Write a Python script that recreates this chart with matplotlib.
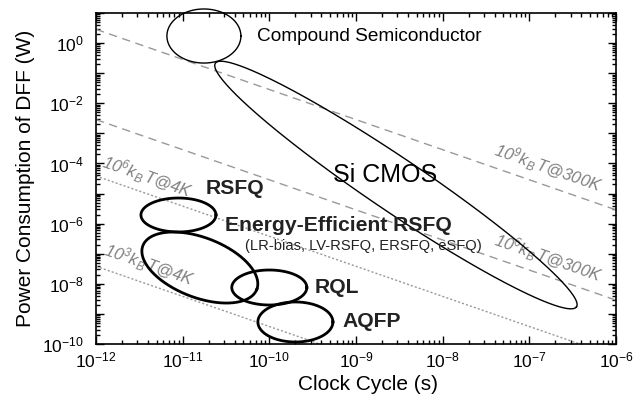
import numpy as np
import matplotlib
matplotlib.use("Agg")
import matplotlib.pyplot as plt
from matplotlib.ticker import LogLocator, FuncFormatter, NullFormatter

plt.rcParams["font.family"] = ["Liberation Sans", "DejaVu Sans"]
plt.rcParams["mathtext.fontset"] = "custom"
plt.rcParams["mathtext.rm"] = "Liberation Sans"
plt.rcParams["mathtext.it"] = "Liberation Sans:italic"
plt.rcParams["mathtext.bf"] = "Liberation Sans:bold"
plt.rcParams["mathtext.default"] = "regular"

# energy per switching event: N * kB * T * ln2
KB = 1.380649e-23
energy_n = [1e9, 1e6, 1e6, 1e3]
energy_temp = [300, 300, 4, 4]
energy_labels = [r"$10^{9}k_{B}\,T$@300K", r"$10^{6}k_{B}\,T$@300K",
                 r"$10^{6}k_{B}\,T$@4K", r"$10^{3}k_{B}\,T$@4K"]
energy_label_xy = [(1.64e-7, 7.0e-5), (1.64e-7, 7.2e-8),
                   (3.9e-12, 3.55e-5), (4.1e-12, 4.2e-8)]

# technology regions: centre (clock, power), semi-axes in x-decades, tilt (deg)
tech_names = ["Compound Semiconductor", "Si CMOS", "RSFQ",
              "Energy-Efficient RSFQ", "RQL", "AQFP"]
tech_center_t = [1.76e-11, 2.89e-9, 8.95e-12, 1.58e-11, 1.0e-10, 2.0e-10]
tech_center_p = [1.72, 1.92e-5, 1.94e-6, 3.48e-8, 7.55e-9, 5.4e-10]
tech_semi_a = [0.427, 2.513, 0.433, 0.704, 0.433, 0.433]
tech_semi_b = [0.312, 0.309, 0.196, 0.346, 0.202, 0.231]
tech_angle = [0, -34.0, 0, -21, 0, 0]
tech_thick = [False, False, True, True, True, True]

fig = plt.figure(figsize=(6.44, 3.99), dpi=100)
ax = fig.add_axes([0.149, 0.1378, 0.8075, 0.8296])
ax.set_xscale("log")
ax.set_yscale("log")
ax.set_xlim(1e-12, 1e-6)
ax.set_ylim(1e-10, 1e1)

# ratio of pixels per y-decade to pixels per x-decade
bb = ax.get_position()
ratio = (bb.height * 3.99 / 11) / (bb.width * 6.44 / 6)

t = np.logspace(-12, -6, 200)
for n, temp, i in zip(energy_n, energy_temp, range(4)):
    e = n * KB * temp * np.log(2)
    if temp == 300:
        ax.plot(t, e / t, color="#999999", lw=1.0, ls=(0, (6, 4)))
    else:
        ax.plot(t, e / t, color="#999999", lw=1.0, ls=(0, (1.5, 1.5)))
    ax.text(*energy_label_xy[i], energy_labels[i], color="#808080", fontsize=12,
            style="italic", rotation=-19.2, ha="center", va="center",
            rotation_mode="anchor")

s = np.linspace(0, 2 * np.pi, 300)
for i in range(len(tech_names)):
    phi = np.radians(tech_angle[i])
    a, b = tech_semi_a[i], tech_semi_b[i]
    dx = a * np.cos(s) * np.cos(phi) - b * np.sin(s) * np.sin(phi)
    dy = a * np.cos(s) * np.sin(phi) + b * np.sin(s) * np.cos(phi)
    lx = np.log10(tech_center_t[i]) + dx
    ly = np.log10(tech_center_p[i]) + dy / ratio
    lw = 2.0 if tech_thick[i] else 1.0
    ax.plot(10 ** lx, 10 ** ly, color="black", lw=lw, clip_on=False, zorder=3)

ax.text(7.2e-11, 1.6, "Compound Semiconductor", fontsize=13.7, va="center")
ax.text(2.16e-9, 4.1e-5, "Si CMOS", fontsize=18, ha="center", va="center")
bold = dict(fontsize=15.2, weight="bold", va="center", color="#222222")
ax.text(1.86e-11, 1.42e-5, "RSFQ", **bold)
ax.text(3.08e-11, 8.4e-7, "Energy-Efficient RSFQ", **bold)
ax.text(5.24e-11, 1.81e-7, "(LR-bias, LV-RSFQ, ERSFQ, eSFQ)", fontsize=10.6,
        va="center", color="#222222")
ax.text(3.37e-10, 7.8e-9, "RQL", **bold)
ax.text(6.9e-10, 5.4e-10, "AQFP", **bold)

ax.xaxis.set_major_locator(LogLocator(base=10, numticks=20))
ax.xaxis.set_minor_locator(LogLocator(base=10, subs=np.arange(2, 10), numticks=20))
ax.yaxis.set_major_locator(LogLocator(base=10, numticks=20))
ax.yaxis.set_minor_locator(LogLocator(base=10, subs=np.arange(2, 10), numticks=20))
ax.xaxis.set_major_formatter(FuncFormatter(lambda v, p: r"$10^{%d}$" % round(np.log10(v))))
ax.yaxis.set_major_formatter(FuncFormatter(
    lambda v, p: r"$10^{%d}$" % round(np.log10(v)) if round(np.log10(v)) % 2 == 0 else ""))
ax.xaxis.set_minor_formatter(NullFormatter())
ax.yaxis.set_minor_formatter(NullFormatter())
ax.tick_params(which="both", direction="in", top=True, right=True, labelsize=12.5,
               width=1.0)
ax.tick_params(which="major", length=5.5)
ax.tick_params(which="minor", length=3)
ax.tick_params(axis="x", which="major", pad=5)
ax.tick_params(axis="y", which="major", pad=8.5)
for sp in ax.spines.values():
    sp.set_linewidth(1.2)

ax.set_xlabel("Clock Cycle (s)", fontsize=15)
ax.xaxis.set_label_coords(0.523, -0.095)
ax.set_ylabel("Power Consumption of DFF (W)", fontsize=15)
ax.yaxis.set_label_coords(-0.117, 0.5)

fig.savefig("out.png", dpi=100)
